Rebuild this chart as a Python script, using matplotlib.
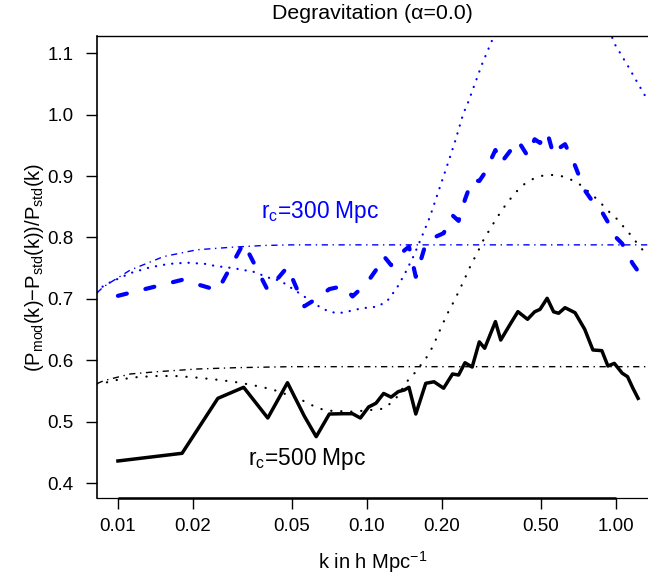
import matplotlib
matplotlib.use("Agg")
import matplotlib.pyplot as plt

plt.rcParams['font.family'] = ['Liberation Sans', 'DejaVu Sans']
plt.rcParams['mathtext.fontset'] = 'custom'
plt.rcParams['mathtext.rm'] = 'Liberation Sans'
plt.rcParams['mathtext.it'] = 'Liberation Sans:italic'
plt.rcParams['mathtext.default'] = 'regular'

# simulation k bins (shared by both measured curves)
k_sim = [0.0100, 0.0181, 0.0252, 0.0320, 0.0400, 0.0480, 0.0561, 0.0626, 0.0707, 0.0807,
         0.0876, 0.0942, 0.1017, 0.1088, 0.1168, 0.1252, 0.1338, 0.1415, 0.1477, 0.1573,
         0.1725, 0.1862, 0.2035, 0.2210, 0.2337, 0.2480, 0.2650, 0.2831, 0.2975, 0.3286,
         0.3452, 0.3750, 0.4046, 0.4423, 0.4724, 0.4965, 0.5303, 0.5629, 0.5896, 0.6257,
         0.6864, 0.7506, 0.8097, 0.8795, 0.9303, 0.9872, 1.0617, 1.1156, 1.1722, 1.2300]

# rc = 500 Mpc, measured (black solid)
sim_500 = [0.436, 0.4485, 0.538, 0.556, 0.506, 0.5635, 0.509, 0.4756, 0.5125, 0.513,
           0.513, 0.506, 0.524, 0.530, 0.546, 0.540, 0.549, 0.5516, 0.556, 0.5125,
           0.5625, 0.565, 0.5545, 0.5777, 0.576, 0.596, 0.589, 0.630, 0.6196, 0.663,
           0.633, 0.6575, 0.6792, 0.6668, 0.679, 0.683, 0.701, 0.679, 0.6766, 0.6857,
           0.6775, 0.6505, 0.6168, 0.6157, 0.5907, 0.595, 0.579, 0.5733, 0.5545, 0.538]

# rc = 300 Mpc, measured (blue dashed)
sim_300 = [0.705, 0.731, 0.714, 0.791, 0.714, 0.752, 0.688, 0.700, 0.716, 0.721,
           0.704, 0.716, 0.730, 0.747, 0.770, 0.755, 0.768, 0.779, 0.785, 0.736,
           0.790, 0.800, 0.807, 0.836, 0.827, 0.862, 0.894, 0.892, 0.905, 0.9425,
           0.921, 0.940, 0.958, 0.933, 0.960, 0.954, 0.972, 0.934, 0.945, 0.952,
           0.917, 0.877, 0.858, 0.842, 0.825, 0.803, 0.790, 0.772, 0.757, 0.745]

# linear prediction (dash-dot)
k_lin_300 = [0.00824, 0.00877, 0.01121, 0.01528, 0.02078, 0.02829, 0.03852, 0.05, 0.07, 0.1, 0.2, 0.5, 1.0, 1.35]
lin_300 = [0.710, 0.720, 0.747, 0.769, 0.780, 0.784, 0.787, 0.788, 0.788, 0.788, 0.788, 0.788, 0.788, 0.788]
k_lin_500 = [0.00824, 0.00877, 0.01121, 0.01436, 0.02078, 0.0301, 0.0493, 0.1, 1.35]
lin_500 = [0.562, 0.5668, 0.5777, 0.5814, 0.5858, 0.588, 0.5896, 0.5896, 0.5896]

# nonlinear prediction (dotted)
k_nl_300 = [0.00824, 0.00877, 0.01121, 0.01349, 0.0160, 0.01895, 0.02245, 0.02462, 0.02919, 0.03201,
            0.03512, 0.04095, 0.04493, 0.05229, 0.06095, 0.06588, 0.07115, 0.07683, 0.08303, 0.09539,
            0.1096, 0.1202, 0.1318, 0.1424, 0.1537, 0.1662, 0.1794, 0.1938, 0.2094, 0.2261,
            0.2442, 0.2558, 0.2894, 0.3223, 0.40, 0.55, 0.75, 0.9872, 1.034, 1.083,
            1.134, 1.188, 1.244, 1.303, 1.35]
nl_300 = [0.710, 0.722, 0.742, 0.7515, 0.757, 0.759, 0.757, 0.7536, 0.750, 0.747,
          0.744, 0.7336, 0.7296, 0.712, 0.694, 0.6847, 0.679, 0.6766, 0.679, 0.6847,
          0.6873, 0.6955, 0.7173, 0.7417, 0.7687, 0.801, 0.834, 0.8746, 0.915, 0.956,
          1.002, 1.021, 1.081, 1.126, 1.25, 1.32, 1.25, 1.116, 1.1026, 1.089,
          1.0756, 1.061, 1.047, 1.033, 1.022]
k_nl_500 = [0.00824, 0.0089, 0.00992, 0.01174, 0.01414, 0.0170, 0.02016, 0.02426, 0.02919, 0.03457,
            0.04159, 0.0539, 0.05821, 0.0629, 0.06901, 0.08826, 0.1030, 0.1112, 0.1183, 0.1318,
            0.1482, 0.1562, 0.1635, 0.1713, 0.1840, 0.1968, 0.2094, 0.2261, 0.2442, 0.2638,
            0.2763, 0.2985, 0.3147, 0.3295, 0.3461, 0.3648, 0.3857, 0.4100, 0.4413, 0.4771,
            0.5200, 0.5705, 0.6216, 0.6756, 0.7302, 0.7835, 0.8389, 0.8917, 0.9486, 1.0149,
            1.0797, 1.1489, 1.2142, 1.2910, 1.35]
nl_500 = [0.562, 0.5635, 0.568, 0.5723, 0.5744, 0.5744, 0.5723, 0.569, 0.565, 0.5598,
          0.5528, 0.5365, 0.530, 0.5228, 0.518, 0.5163, 0.519, 0.520, 0.5218, 0.5397,
          0.5707, 0.5798, 0.5907, 0.6005, 0.6222, 0.6493, 0.6738, 0.6993, 0.728, 0.758,
          0.773, 0.8013, 0.815, 0.8296, 0.842, 0.8557, 0.8676, 0.880, 0.8909, 0.8974,
          0.9018, 0.9018, 0.899, 0.8925, 0.8844, 0.8736, 0.8627, 0.8518, 0.8404, 0.8296,
          0.8166, 0.804, 0.7915, 0.7785, 0.768]

x_ticks = [0.01, 0.02, 0.05, 0.10, 0.20, 0.50, 1.00]
x_tick_labels = ["0.01", "0.02", "0.05", "0.10", "0.20", "0.50", "1.00"]
y_ticks = [0.4, 0.5, 0.6, 0.7, 0.8, 0.9, 1.0, 1.1]

fig = plt.figure(figsize=(6.48, 5.77), dpi=100)
ax = fig.add_axes([97 / 648, 1 - 498 / 577, 1 - 97 / 648, (498 - 36) / 577])

dashdot = (4.5, 3.3, 1, 3.3)
ax.plot(k_lin_300, lin_300, color="blue", lw=1.0, dashes=dashdot)
ax.plot(k_lin_500, lin_500, color="black", lw=1.0, dashes=dashdot)
ax.plot(k_nl_300, nl_300, color="blue", lw=1.6, dashes=(0.1, 3.6), dash_capstyle="round")
ax.plot(k_nl_500, nl_500, color="black", lw=1.6, dashes=(0.1, 4.4), dash_capstyle="round")
ax.plot(k_sim, sim_500, color="black", lw=2.5, solid_joinstyle="round")
ax.plot(k_sim, sim_300, color="blue", lw=3.0, dashes=(2.2, 4.6), dash_capstyle="round")

ax.text(0.0649, 0.8318, r"r$_c$=300 Mpc", color="blue", fontsize=16.4, ha="center", va="baseline")
ax.text(0.0575, 0.4299, r"r$_c$=500 Mpc", color="black", fontsize=16.4, ha="center", va="baseline")

ax.set_xscale("log")
ax.set_xlim(0.00824, 1.348)
ax.set_ylim(0.3757, 1.1282)
ax.set_xticks(x_ticks)
ax.set_xticklabels(x_tick_labels)
ax.minorticks_off()
ax.set_yticks(y_ticks)
ax.set_yticklabels(["%.1f" % v for v in y_ticks])
ax.tick_params(direction="out", length=8, width=1.0, labelsize=13.5)
ax.tick_params(axis="x", pad=6.5)
ax.tick_params(axis="y", pad=9)

# R-style box: thin frame, heavier x axis line between first and last tick
ax.spines["right"].set_visible(False)
ax.spines["left"].set_linewidth(1.2)
ax.spines["top"].set_linewidth(1.0)
ax.spines["bottom"].set_linewidth(0.9)
ax.plot([x_ticks[0], x_ticks[-1]], [ax.get_ylim()[0]] * 2, color="black", lw=1.8,
        clip_on=False, solid_capstyle="butt")
ax.set_ylim(0.3757, 1.1282)

ax.set_title("Degravitation (\u03b1=0.0)", fontsize=15.4, pad=12)
ax.set_xlabel(r"k in h Mpc$^{-1}$", fontsize=14.5)
ax.set_ylabel(r"(P$_{mod}$(k)$-$P$_{std}$(k))/P$_{std}$(k)", fontsize=14.5)
ax.xaxis.set_label_coords(0.5, -0.111)
ax.yaxis.set_label_coords(-0.093, 0.5)

plt.savefig("out.png", dpi=100)
